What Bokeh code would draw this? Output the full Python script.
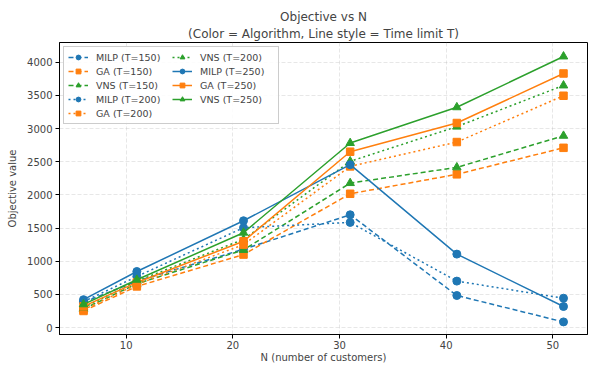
from bokeh.plotting import figure
from bokeh.models import Title, Legend, LegendItem, FixedTicker, Range1d
from bokeh.embed import file_html
from bokeh.resources import INLINE

N = [6, 11, 21, 31, 41, 51]
milp_150 = [380, 700, 1180, 1700, 483, 85]
ga_150 = [250, 620, 1100, 2017, 2310, 2710]
vns_150 = [280, 660, 1170, 2178, 2415, 2891]
milp_200 = [390, 770, 1505, 1585, 700, 442]
ga_200 = [270, 650, 1250, 2430, 2797, 3495]
vns_200 = [300, 700, 1330, 2506, 3029, 3650]
milp_250 = [420, 845, 1610, 2456, 1107, 317]
ga_250 = [320, 680, 1300, 2651, 3084, 3831]
vns_250 = [350, 720, 1430, 2782, 3321, 4087]

x_ticks = [10, 20, 30, 40, 50]
y_ticks = [0, 500, 1000, 1500, 2000, 2500, 3000, 3500, 4000]

FONT = "DejaVu Sans"
colors = {"MILP": "#1f77b4", "GA": "#ff7f0e", "VNS": "#2ca02c"}
markers = {"MILP": "circle", "GA": "square", "VNS": "triangle"}
msize = {"MILP": 8, "GA": 7.5, "VNS": 8.5}
dashes = {150: "5 3", 200: "2 3", 250: "solid"}

series = [
    ("MILP", 150, milp_150), ("GA", 150, ga_150), ("VNS", 150, vns_150),
    ("MILP", 200, milp_200), ("GA", 200, ga_200), ("VNS", 200, vns_200),
    ("MILP", 250, milp_250), ("GA", 250, ga_250), ("VNS", 250, vns_250),
]

p = figure(width=590, height=365, output_backend="svg", toolbar_location=None,
           x_range=Range1d(3.75, 53.25), y_range=Range1d(-105, 4298),
           min_border_left=59, min_border_right=3, min_border_top=42, min_border_bottom=0)
p.title.text = ""
p.add_layout(Title(text="(Color = Algorithm, Line style = Time limit T)", align="center",
                   text_font=FONT, text_font_size="12px", text_font_style="normal",
                   standoff=3), "above")
p.add_layout(Title(text="Objective vs N", align="center",
                   text_font=FONT, text_font_size="12px", text_font_style="normal",
                   standoff=0), "above")

items = []
for alg, T, ys in series:
    c = colors[alg]
    r1 = p.line(N, ys, line_color=c, line_width=1.5, line_dash=dashes[T])
    r2 = p.scatter(N, ys, marker=markers[alg], size=msize[alg], fill_color=c, line_color=c)
    items.append(LegendItem(label=f"{alg} (T={T})", renderers=[r1, r2]))

legend = Legend(items=items, location="top_left", ncols=2,
                label_text_font=FONT, label_text_font_size="9.5px",
                glyph_width=20, glyph_height=12, label_height=12, label_width=74,
                spacing=2, padding=4, margin=4, label_standoff=8,
                border_line_color="#cccccc", border_line_alpha=1.0,
                background_fill_alpha=0.85)
p.add_layout(legend, "center")

p.xaxis.ticker = FixedTicker(ticks=x_ticks)
p.yaxis.ticker = FixedTicker(ticks=y_ticks)
p.xaxis.axis_label = "N (number of customers)"
p.yaxis.axis_label = "Objective value"
for ax in (p.xaxis[0], p.yaxis[0]):
    ax.axis_label_text_font = FONT
    ax.axis_label_text_font_size = "10px"
    ax.axis_label_text_font_style = "normal"
    ax.major_label_text_font = FONT
    ax.major_label_text_font_size = "10px"
    ax.minor_tick_line_color = None
    ax.major_tick_out = 4
    ax.major_tick_in = 0
    ax.axis_line_color = "black"
    ax.major_tick_line_color = "black"
p.xaxis.major_label_standoff = 2
p.xaxis.axis_label_standoff = 0
p.yaxis.major_label_standoff = 3
p.yaxis.axis_label_standoff = 6

p.xgrid.grid_line_dash = "4 2"
p.ygrid.grid_line_dash = "4 2"
p.xgrid.grid_line_color = "#b0b0b0"
p.ygrid.grid_line_color = "#b0b0b0"
p.xgrid.grid_line_alpha = 0.3
p.ygrid.grid_line_alpha = 0.3
p.outline_line_color = "black"
p.outline_line_alpha = 1.0

open("out.html", "w").write(file_html(p, INLINE))
